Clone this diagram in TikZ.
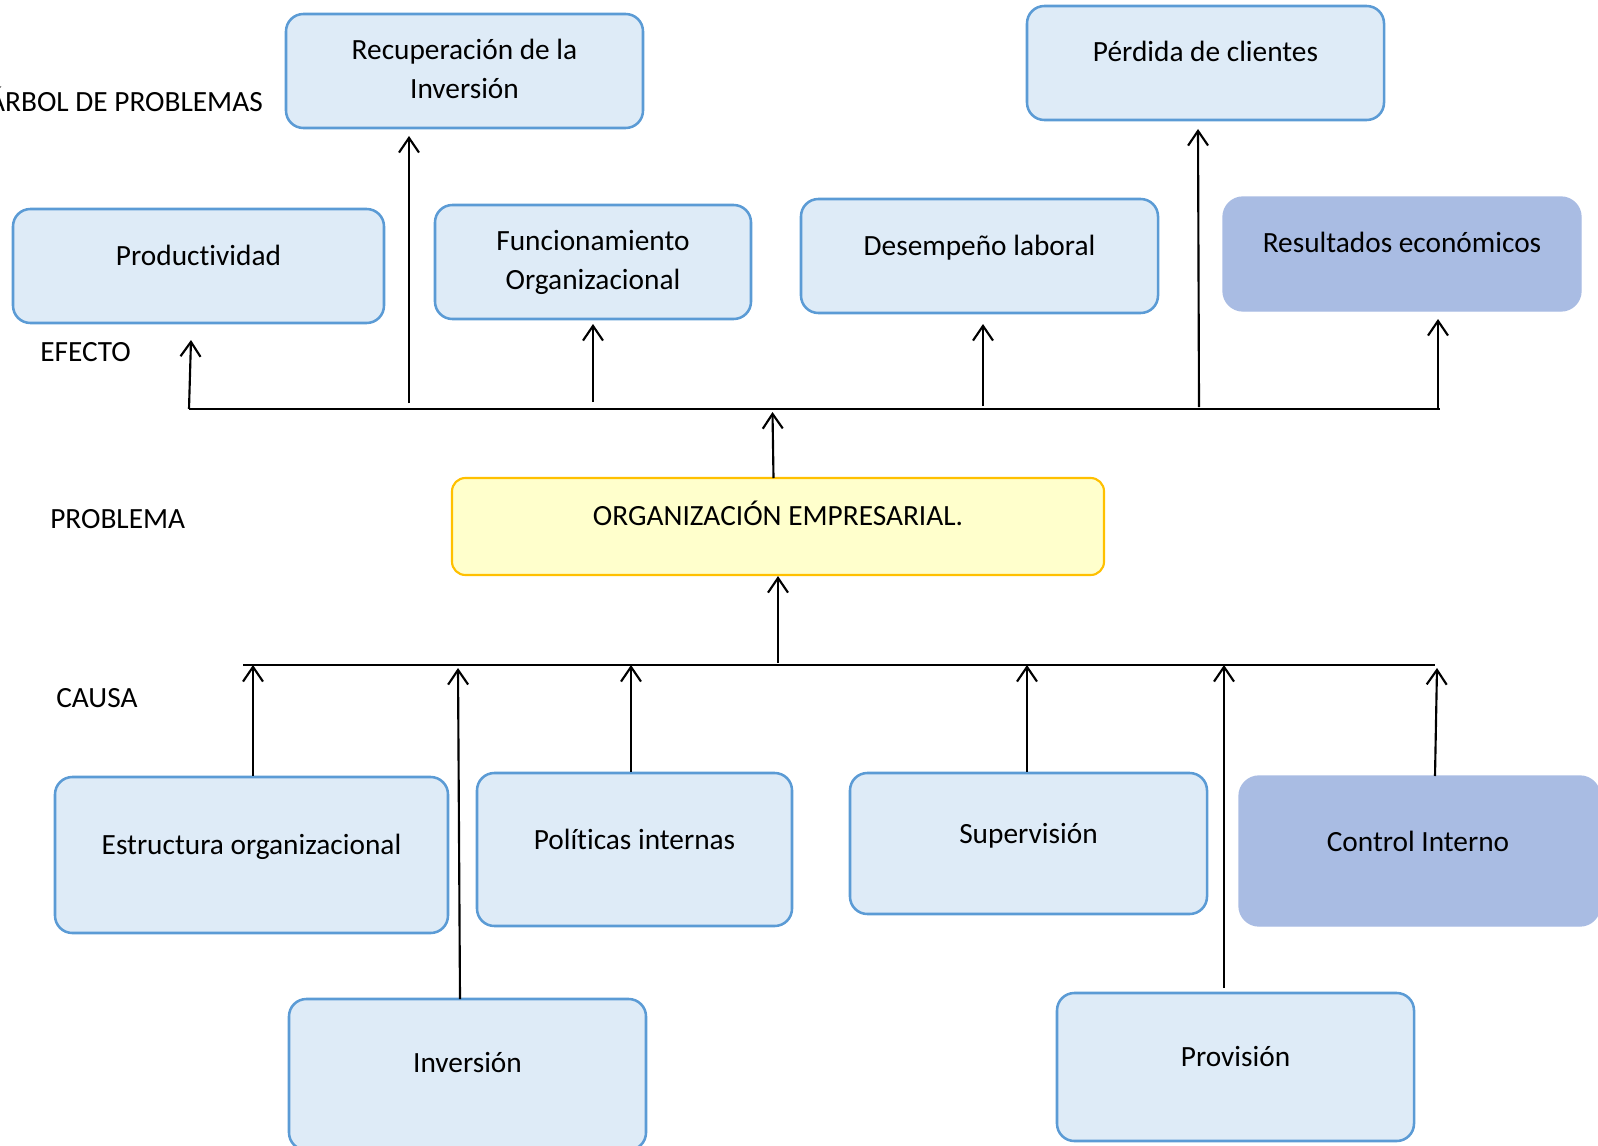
\documentclass[tikz,border=0pt]{standalone}
\usepackage{fontspec}
\setmainfont{Carlito}[Ligatures=NoCommon]
\usetikzlibrary{arrows.meta,fit}
\definecolor{lightfill}{HTML}{DEEBF7}
\definecolor{boxborder}{HTML}{5B9BD5}
\definecolor{darkfill}{HTML}{A9BCE3}
\definecolor{probfill}{HTML}{FFFFCC}
\definecolor{probborder}{HTML}{FFC000}
\tikzset{
  box/.style={draw=boxborder, fill=lightfill, line width=1.9pt, rounded corners=13pt, inner sep=0pt},
  darkbox/.style={draw=darkfill, fill=darkfill, line width=1pt, rounded corners=15pt, inner sep=0pt},
  probbox/.style={draw=probborder, fill=probfill, line width=1.6pt, rounded corners=10pt, inner sep=0pt},
  txt/.style={font=\fontsize{22}{29.25}\selectfont, inner sep=0pt, align=center, text=black},
  hline/.style={line width=1pt, black},
  arr/.style={line width=1.6pt, black, -{Straight Barb[length=11pt,width=15pt,line width=1.6pt]}},
}
\begin{document}
\begin{tikzpicture}[x=0.75pt,y=-0.75pt]
\useasboundingbox (0,0) rectangle (1598,1145);

% effect boxes
\node[box, fit={(286,14) (643,128)}] (rec) {};
\node[box, fit={(1027,6) (1384,120)}] (per) {};
\node[box, fit={(13,209) (384,323)}] (prod) {};
\node[box, fit={(435,205) (751,319)}] (fun) {};
\node[box, fit={(801,199) (1158,313)}] (des) {};
\node[darkbox, fit={(1223,197) (1581,311)}] (res) {};

% problem box
\node[probbox, fit={(452,478) (1104,575)}] (prob) {};

% cause boxes
\node[box, fit={(55,777) (448,933)}] (est) {};
\node[box, fit={(477,773) (792,926)}] (pol) {};
\node[box, fit={(850,773) (1207,914)}] (sup) {};
\node[darkbox, fit={(1239,776) (1600,926)}] (con) {};
\node[box, fit={(289,999) (646,1150)}] (inv) {};
\node[box, fit={(1057,993) (1414,1141)}] (pro) {};

% texts
\node[txt] (trec) at (464.5,69) {Recuperación de la\\Inversión};
\node[txt, anchor=base] (tper) at (1205.5,62) {Pérdida de clientes};
\node[txt, anchor=base] (tprod) at (198.5,265) {Productividad};
\node[txt] (tfun) at (593,262.5) {Funcionamiento\\Organizacional};
\node[txt, anchor=base] (tdes) at (979.5,255) {Desempeño laboral};
\node[txt, anchor=base] (tres) at (1402,252) {Resultados económicos};
\node[txt, anchor=base] (tprob) at (778,525) {ORGANIZACIÓN EMPRESARIAL.};
\node[txt, anchor=base] (test) at (251.5,854) {Estructura organizacional};
\node[txt, anchor=base] (tpol) at (634.5,849) {Políticas internas};
\node[txt, anchor=base] (tsup) at (1028.5,843) {Supervisión};
\node[txt, anchor=base] (tcon) at (1418,851) {Control Interno};
\node[txt, anchor=base] (tinv) at (467.5,1072) {Inversión};
\node[txt, anchor=base] (tpro) at (1235.5,1066) {Provisión};

% side labels
\node[txt, anchor=base east] (larbol) at (263,112) {ÁRBOL DE PROBLEMAS};
\node[txt, anchor=base west] (lefecto) at (40,361) {EFECTO};
\node[txt, anchor=base west] (lproblema) at (50,528) {PROBLEMA};
\node[txt, anchor=base west] (lcausa) at (56,707) {CAUSA};

% effect line and arrows
\coordinate (eL) at (189,409);
\coordinate (eR) at (1440,409);
\draw[hline] (eL) -- (eR);

\coordinate (e1b) at (189,409);  \coordinate (e1t) at (191,340);
\coordinate (e2b) at (409,403);  \coordinate (e2t) at (409,136);
\coordinate (e3b) at (593,402);  \coordinate (e3t) at (593,324);
\coordinate (e4b) at (983,406);  \coordinate (e4t) at (983,324);
\coordinate (e5b) at (1199,407); \coordinate (e5t) at (1198,129);
\coordinate (e6b) at (1438,408); \coordinate (e6t) at (1438,319);
\draw[arr] (e1b) -- (e1t);
\draw[arr] (e2b) -- (e2t);
\draw[arr] (e3b) -- (e3t);
\draw[arr] (e4b) -- (e4t);
\draw[arr] (e5b) -- (e5t);
\draw[arr] (e6b) -- (e6t);

% problem to effect line
\coordinate (mb) at (773.5,478);
\coordinate (mt) at (772.5,412);
\draw[arr] (mb) -- (mt);

% cause line and arrows
\coordinate (cL) at (243,665);
\coordinate (cR) at (1435,665);
\draw[hline] (cL) -- (cR);
\coordinate (cm) at (778,663);
\draw[arr] (cm) -- (prob.south);

\coordinate (c1t) at (253,665);
\coordinate (c2b) at (460,999);  \coordinate (c2t) at (458,668);
\coordinate (c3t) at (631,665);
\coordinate (c4t) at (1027,665);
\coordinate (c5b) at (1224,988); \coordinate (c5t) at (1224,665);
\coordinate (c6b) at (1435,776); \coordinate (c6t) at (1437,668);
\draw[arr] (est.north -| c1t) -- (c1t);
\draw[arr] (c2b) -- (c2t);
\draw[arr] (pol.north -| c3t) -- (c3t);
\draw[arr] (sup.north -| c4t) -- (c4t);
\draw[arr] (c5b) -- (c5t);
\draw[arr] (c6b) -- (c6t);
\end{tikzpicture}
\end{document}
